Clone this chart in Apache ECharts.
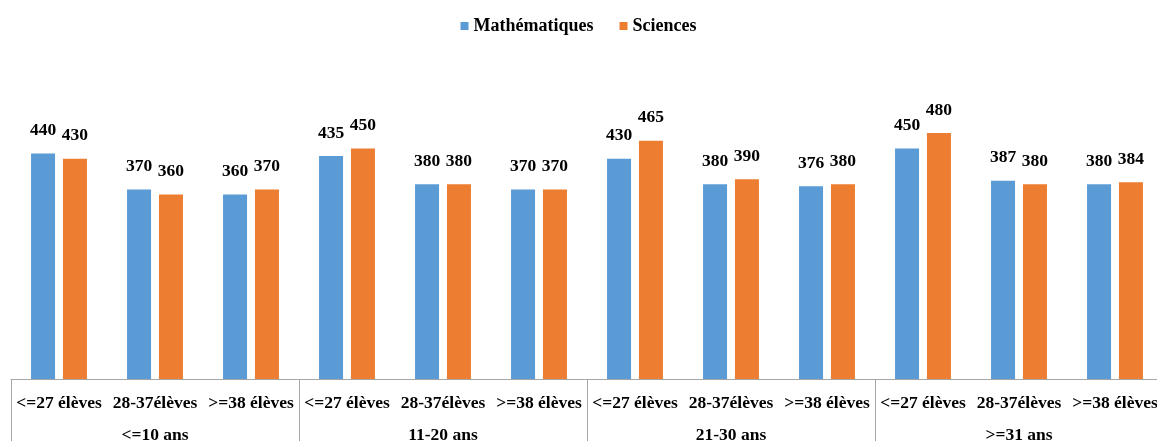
<!DOCTYPE html>
<html>
<head>
<meta charset="utf-8">
<script src="https://cdn.jsdelivr.net/npm/echarts@6/dist/echarts.min.js"></script>
<style>html,body{margin:0;padding:0;background:#fff}#c{width:1157px;height:441px}</style>
</head>
<body>
<div id="c"></div>
<script>
const categories = ['<=27 élèves','28-37élèves','>=38 élèves','<=27 élèves','28-37élèves','>=38 élèves','<=27 élèves','28-37élèves','>=38 élèves','<=27 élèves','28-37élèves','>=38 élèves'];
const groups = ['<=10 ans','11-20 ans','21-30 ans','>=31 ans'];
const mathValues = [440,370,360,435,380,370,430,380,376,450,387,380];
const sciValues = [430,360,370,450,380,370,465,390,380,480,380,384];
const seriesNames = ['Mathématiques','Sciences'];

const FONT = '"Liberation Serif","Times New Roman",serif';
const chart = echarts.init(document.getElementById('c'), null, {renderer:'canvas'});
const lbl = {show:true, position:'top', distance:14, fontFamily:FONT, fontWeight:'bold', fontSize:17.5, color:'#000'};
chart.setOption({
  animation:false,
  textStyle:{fontFamily:FONT},
  legend:{
    top:12, left:'center', itemWidth:8, itemHeight:8, itemGap:26, icon:'rect',
    textStyle:{fontFamily:FONT, fontWeight:'bold', fontSize:18, color:'#000'},
    data:seriesNames
  },
  grid:{left:11, width:1152, top:71.5, height:307.5, containLabel:false, outerBoundsMode:'none'},
  xAxis:[{
    type:'category', data:categories, position:'bottom',
    axisLine:{lineStyle:{color:'#a6a6a6', width:1}},
    axisTick:{show:true, length:62, interval:function(i){return i%3===0;}, lineStyle:{color:'#a6a6a6'}},
    axisLabel:{interval:0, margin:15, fontFamily:FONT, fontWeight:'bold', fontSize:17.5, color:'#000'}
  },{
    type:'category', data:groups, position:'bottom',
    axisLine:{show:false}, axisTick:{show:false},
    axisLabel:{interval:0, margin:47, fontFamily:FONT, fontWeight:'bold', fontSize:17.5, color:'#000'}
  }],
  yAxis:{type:'value', min:0, max:600, show:false, splitLine:{show:false}},
  series:[
    {name:seriesNames[0], type:'bar', data:mathValues, barWidth:24, barGap:'33%', itemStyle:{color:'#5B9BD5'}, label:lbl},
    {name:seriesNames[1], type:'bar', data:sciValues, barWidth:24, barGap:'33%', itemStyle:{color:'#ED7D31'}, label:lbl}
  ]
});
</script>
</body>
</html>
